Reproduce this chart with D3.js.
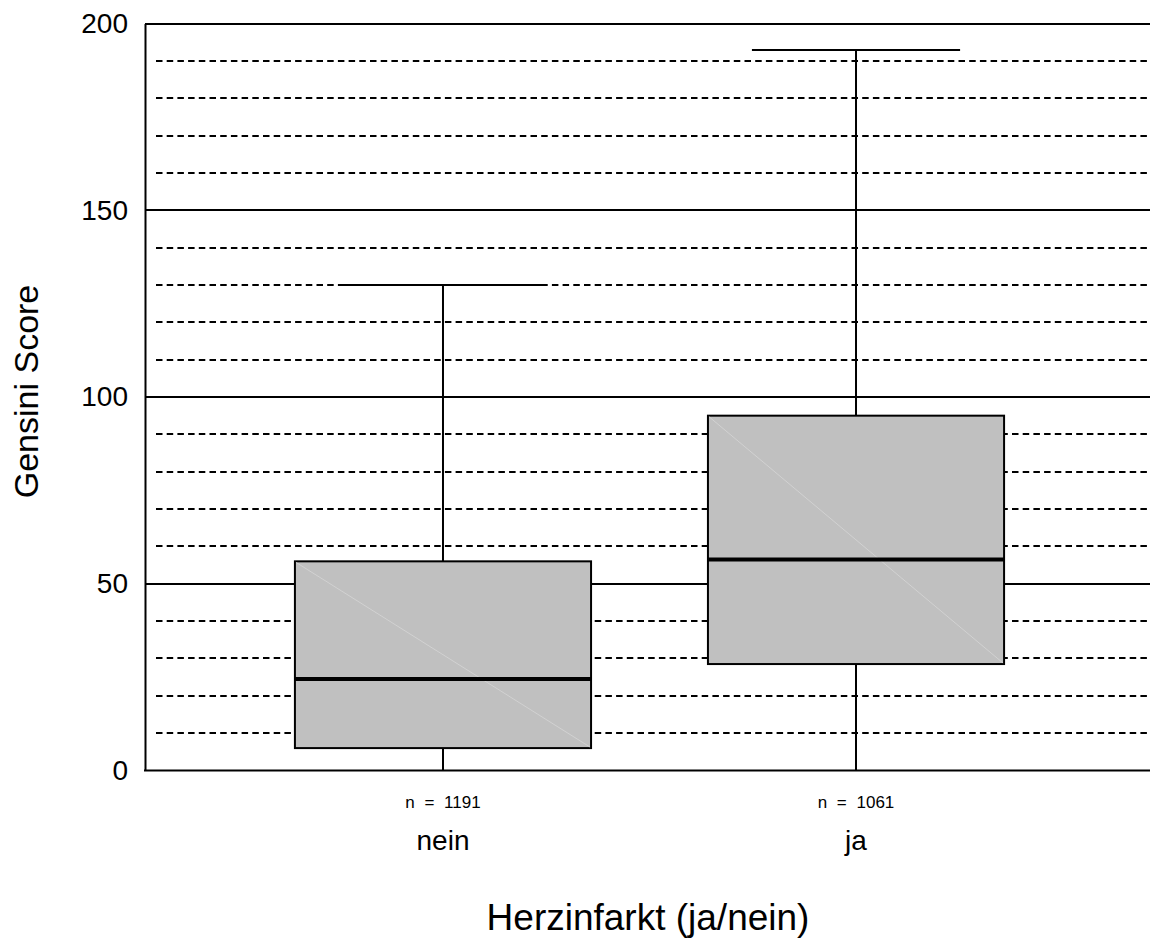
<!DOCTYPE html>
<html>
<head>
<meta charset="utf-8">
<script src="https://cdn.jsdelivr.net/npm/d3@7"></script>
<style>
  html, body { margin: 0; padding: 0; background: #fff; }
  svg { display: block; }
  text { font-family: "Liberation Sans", Arial, sans-serif; fill: #000; }
</style>
</head>
<body>
<svg id="chart" width="1150" height="951"></svg>
<script>
// Gensini score by myocardial infarction status (box plot)
const categories = ["nein", "ja"];
const counts = [1191, 1061];
const whiskerLow = [0, 0];
const q1 = [6, 28.5];
const medians = [24.5, 56.5];
const q3 = [56, 95];
const whiskerHigh = [130, 193];

const majorTicks = [0, 50, 100, 150, 200];
const minorTicks = [10, 20, 30, 40, 60, 70, 80, 90, 110, 120, 130, 140, 160, 170, 180, 190];

const yLabel = "Gensini Score";
const xLabel = "Herzinfarkt (ja/nein)";

const svg = d3.select("#chart");
const plot = { left: 145, right: 1154, top: 23.5, bottom: 770.5 };

const y = d3.scaleLinear().domain([0, 200]).range([plot.bottom, plot.top]);
const x = d3.scaleBand().domain(categories)
  .range([plot.left, plot.right])
  .paddingInner(0).paddingOuter(0.2215);

// pixel-snapped y for crisp 2px grid lines
const ys = v => Math.round(y(v));

const boxWidth = x.step() * 0.717;
const capWidth = x.step() * 0.504;
const cx = c => x(c) + x.bandwidth() / 2;

const rows = categories.map((c, i) => ({
  cat: c, n: counts[i], lo: whiskerLow[i], q1: q1[i], med: medians[i], q3: q3[i], hi: whiskerHigh[i]
}));

// Grid lines
const grid = svg.append("g");
grid.selectAll("line.minor").data(minorTicks).join("line")
  .attr("class", "minor")
  .attr("x1", plot.left + 11).attr("x2", plot.right)
  .attr("y1", d => ys(d)).attr("y2", d => ys(d))
  .attr("stroke", "#000").attr("stroke-width", 2)
  .attr("stroke-dasharray", "6.5,4.2");
grid.selectAll("line.major").data(majorTicks.filter(d => d > 0)).join("line")
  .attr("class", "major")
  .attr("x1", plot.left).attr("x2", plot.right)
  .attr("y1", d => ys(d)).attr("y2", d => ys(d))
  .attr("stroke", "#000").attr("stroke-width", 2);

// Whiskers
const boxes = svg.append("g").selectAll("g").data(rows).join("g");
boxes.append("line")
  .attr("x1", d => cx(d.cat)).attr("x2", d => cx(d.cat))
  .attr("y1", d => y(d.lo)).attr("y2", d => y(d.q1))
  .attr("stroke", "#000").attr("stroke-width", 2);
boxes.append("line")
  .attr("x1", d => cx(d.cat)).attr("x2", d => cx(d.cat))
  .attr("y1", d => y(d.q3)).attr("y2", d => y(d.hi))
  .attr("stroke", "#000").attr("stroke-width", 2);
boxes.append("line")
  .attr("x1", d => cx(d.cat) - capWidth / 2).attr("x2", d => cx(d.cat) + capWidth / 2)
  .attr("y1", d => ys(d.hi)).attr("y2", d => ys(d.hi))
  .attr("stroke", "#000").attr("stroke-width", 2);

// Boxes
boxes.append("rect")
  .attr("x", d => cx(d.cat) - boxWidth / 2)
  .attr("y", d => y(d.q3))
  .attr("width", boxWidth)
  .attr("height", d => y(d.q1) - y(d.q3))
  .attr("fill", "#c0c0c0").attr("stroke", "#000").attr("stroke-width", 2);
boxes.append("line")
  .attr("x1", d => cx(d.cat) - boxWidth / 2 + 1).attr("x2", d => cx(d.cat) + boxWidth / 2 - 1)
  .attr("y1", d => y(d.q3) + 1).attr("y2", d => y(d.q1) - 1)
  .attr("stroke", "#d6d6d6").attr("stroke-width", 0.8);
boxes.append("line")
  .attr("x1", d => cx(d.cat) - boxWidth / 2).attr("x2", d => cx(d.cat) + boxWidth / 2)
  .attr("y1", d => y(d.med)).attr("y2", d => y(d.med))
  .attr("stroke", "#000").attr("stroke-width", 4);

// Axes
const yAxis = svg.append("g")
  .attr("transform", `translate(${plot.left},0)`)
  .call(d3.axisLeft(y).tickValues(majorTicks).tickSize(0).tickSizeOuter(0).tickPadding(17));
yAxis.select(".domain").attr("stroke", "#000").attr("stroke-width", 2);
yAxis.selectAll(".tick text")
  .attr("font-size", 28)
  .attr("font-family", "'Liberation Sans', Arial, sans-serif")
  .attr("fill", "#000");

svg.append("line")
  .attr("x1", plot.left - 1).attr("x2", plot.right)
  .attr("y1", plot.bottom).attr("y2", plot.bottom)
  .attr("stroke", "#000").attr("stroke-width", 2);

// Category labels and counts
const labels = svg.append("g").selectAll("g").data(rows).join("g");
labels.append("text")
  .attr("x", d => cx(d.cat)).attr("y", 808)
  .attr("text-anchor", "middle")
  .style("font-size", "17px")
  .style("word-spacing", "5px")
  .text(d => `n = ${d.n}`);
labels.append("text")
  .attr("x", d => cx(d.cat)).attr("y", 850)
  .attr("text-anchor", "middle").attr("font-size", 28)
  .text(d => d.cat);

// Axis titles
svg.append("text")
  .attr("transform", "translate(38,391.5) rotate(-90)")
  .attr("text-anchor", "middle").attr("font-size", 34)
  .text(yLabel);
svg.append("text")
  .attr("x", 648).attr("y", 930)
  .attr("text-anchor", "middle").attr("font-size", 37)
  .text(xLabel);
</script>
</body>
</html>
